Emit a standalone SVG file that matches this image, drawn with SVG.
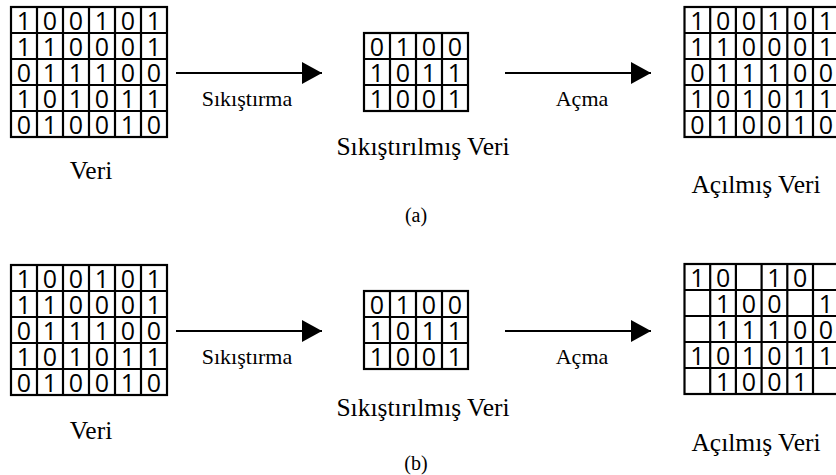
<svg xmlns="http://www.w3.org/2000/svg" width="836" height="475" viewBox="0 0 836 475">
<defs>
<style>
.grid{fill:#fff;stroke:#000;stroke-width:2.2}
.gl{stroke:#000;stroke-width:2.2;fill:none}
.d{font-family:"Open Sans","DejaVu Sans",sans-serif;font-size:25px;fill:#000;text-anchor:middle}
.lbl{font-family:"Liberation Serif","Times New Roman",serif;font-size:25.5px;fill:#000;text-anchor:middle}
.sm{font-family:"Liberation Serif","Times New Roman",serif;font-size:22px;fill:#000;text-anchor:middle}
.cap{font-family:"Liberation Serif","Times New Roman",serif;font-size:20px;fill:#000;text-anchor:middle}
.conn{stroke:#000;stroke-width:2;fill:none}
</style>
<marker id="ah" markerUnits="userSpaceOnUse" markerWidth="20" markerHeight="22" refX="20" refY="11" orient="auto">
<path d="M0,0 L20,11 L0,22 Z" fill="#000"/>
</marker>
</defs>
<rect width="836" height="475" fill="#fff"/>

<!-- (a) -->
<g id="a-veri">
<rect class="grid" x="11" y="7" width="156" height="130"/>
<path class="gl" d="M37,7V137M63,7V137M89,7V137M115,7V137M141,7V137M11,33H167M11,59H167M11,85H167M11,111H167"/>
<text class="d" x="24 50 76 102 128 154" y="30">100101</text>
<text class="d" x="24 50 76 102 128 154" y="56">110001</text>
<text class="d" x="24 50 76 102 128 154" y="82">011100</text>
<text class="d" x="24 50 76 102 128 154" y="108">101011</text>
<text class="d" x="24 50 76 102 128 154" y="134">010010</text>
<text class="lbl" x="91" y="179">Veri</text>
</g>

<g id="a-sikistirilmis">
<rect class="grid" x="364" y="33" width="104" height="78"/>
<path class="gl" d="M390,33V111M416,33V111M442,33V111M364,59H468M364,85H468"/>
<text class="d" x="377 403 429 455" y="56">0100</text>
<text class="d" x="377 403 429 455" y="82">1011</text>
<text class="d" x="377 403 429 455" y="108">1001</text>
<text class="lbl" x="423" y="155">Sıkıştırılmış Veri</text>
</g>

<g id="a-acilmis">
<rect class="grid" x="684.5" y="7" width="154.2" height="130"/>
<path class="gl" d="M710.2,7V137M735.9,7V137M761.6,7V137M787.3,7V137M813,7V137M684.5,33H838M684.5,59H838M684.5,85H838M684.5,111H838"/>
<text class="d" x="697.4 723.1 748.8 774.5 800.2 825.9" y="30">100101</text>
<text class="d" x="697.4 723.1 748.8 774.5 800.2 825.9" y="56">110001</text>
<text class="d" x="697.4 723.1 748.8 774.5 800.2 825.9" y="82">011100</text>
<text class="d" x="697.4 723.1 748.8 774.5 800.2 825.9" y="108">101011</text>
<text class="d" x="697.4 723.1 748.8 774.5 800.2 825.9" y="134">010010</text>
<text class="lbl" x="756" y="193">Açılmış Veri</text>
</g>

<text class="cap" x="416" y="222">(a)</text>

<!-- (b) -->
<g id="b-veri">
<rect class="grid" x="11" y="265" width="156" height="130"/>
<path class="gl" d="M37,265V395M63,265V395M89,265V395M115,265V395M141,265V395M11,291H167M11,317H167M11,343H167M11,369H167"/>
<text class="d" x="24 50 76 102 128 154" y="288">100101</text>
<text class="d" x="24 50 76 102 128 154" y="314">110001</text>
<text class="d" x="24 50 76 102 128 154" y="340">011100</text>
<text class="d" x="24 50 76 102 128 154" y="366">101011</text>
<text class="d" x="24 50 76 102 128 154" y="392">010010</text>
<text class="lbl" x="91" y="439">Veri</text>
</g>

<g id="b-sikistirilmis">
<rect class="grid" x="364" y="291" width="104" height="78"/>
<path class="gl" d="M390,291V369M416,291V369M442,291V369M364,317H468M364,343H468"/>
<text class="d" x="377 403 429 455" y="314">0100</text>
<text class="d" x="377 403 429 455" y="340">1011</text>
<text class="d" x="377 403 429 455" y="366">1001</text>
<text class="lbl" x="423" y="416">Sıkıştırılmış Veri</text>
</g>

<g id="b-acilmis">
<rect class="grid" x="684.5" y="264" width="154.2" height="130"/>
<path class="gl" d="M710.2,264V394M735.9,264V394M761.6,264V394M787.3,264V394M813,264V394M684.5,290H838M684.5,316H838M684.5,342H838M684.5,368H838"/>
<text class="d" x="697.4 723.1 774.5 800.2" y="287">1010</text>
<text class="d" x="723.1 748.8 774.5 825.9" y="313">1001</text>
<text class="d" x="723.1 748.8 774.5 800.2 825.9" y="339">11100</text>
<text class="d" x="697.4 723.1 748.8 774.5 800.2 825.9" y="365">101011</text>
<text class="d" x="723.1 748.8 774.5 800.2" y="391">1001</text>
<text class="lbl" x="756" y="451">Açılmış Veri</text>
</g>

<text class="cap" x="416" y="470">(b)</text>

<g id="connectors">
<line class="conn" x1="176" y1="73" x2="322" y2="73" marker-end="url(#ah)"/>
<text class="sm" x="247" y="106">Sıkıştırma</text>
<line class="conn" x1="505" y1="73" x2="651" y2="73" marker-end="url(#ah)"/>
<text class="sm" x="582" y="106">Açma</text>
<line class="conn" x1="176" y1="331" x2="322" y2="331" marker-end="url(#ah)"/>
<text class="sm" x="247" y="364">Sıkıştırma</text>
<line class="conn" x1="505" y1="331" x2="651" y2="331" marker-end="url(#ah)"/>
<text class="sm" x="582" y="364">Açma</text>
</g>
</svg>
